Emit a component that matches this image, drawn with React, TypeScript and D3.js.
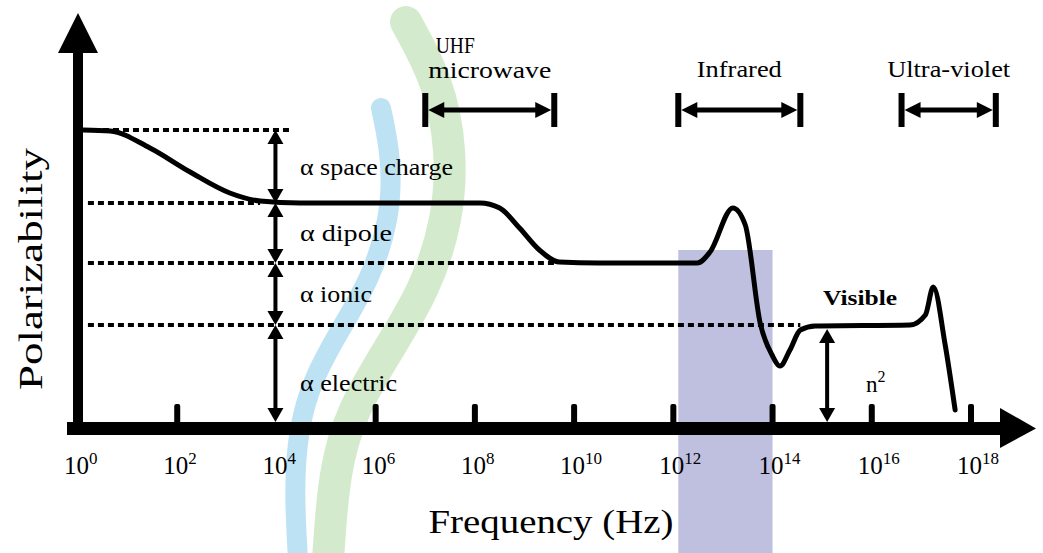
import React from 'react';
import * as d3 from 'd3';

const W = 1043;
const H = 553;

// x is log10(frequency), y is polarizability (arbitrary units)
const tickExps = [0, 2, 4, 6, 8, 10, 12, 14, 16, 18];
const tickMarks = [2, 6, 8, 10, 12, 14, 16, 18];

const curveExp = [0.1, 0.65, 1.45, 2.26, 3.06, 3.67, 4.48, 8.1, 8.5, 8.9, 9.3, 9.7, 10.5, 12.48, 12.74, 13.2, 13.45, 13.75, 13.99, 14.15, 14.35, 14.56, 14.86, 16.77, 17.08, 17.24, 17.48, 17.68];
const curveVal = [29.8, 29.7, 28, 25.6, 23.5, 22.7, 22.5, 22.5, 22, 20, 17.8, 16.6, 16.5, 16.5, 17.6, 22, 20.3, 10.5, 7.3, 6.2, 7.8, 9.8, 10.2, 10.3, 11.3, 14.1, 8.3, 1.8];

const levelNames = ['α space charge', 'α dipole', 'α ionic', 'α electric'];
const levelWidths = [153, 92, 72, 97];
const levelVals = [29.8, 22.5, 16.5, 10.3, 0];
const dotStart = [0.1, 0.2, 0.2, 0.2];
const dotEnd = [4.27, 3.67, 9.62, 14.56];

const bandNames = [['UHF', 'microwave'], ['Infrared'], ['Ultra-violet']];
const bandWidths = [[39, 123], [85], [123]];
const bandStart = [7.0, 12.1, 16.6];
const bandEnd = [9.6, 14.56, 18.5];

const highlightStart = 12.1;
const highlightEnd = 14.0;
const highlightTop = 17.8;

const visibleExp = 15.1;

const x = d3.scaleLinear().domain([0, 18]).range([78, 971]);
const y = d3.scaleLinear().domain([0, 40]).range([428, 28]);

const FONT = 'Liberation Serif';

// faint watermark strokes behind the chart
const blueSwoosh: [number, number][] = [[381, 108], [392, 160], [390, 220], [370, 280], [340, 330], [312, 380], [298, 430], [294, 490], [298, 560]];
const greenSwoosh: [number, number][] = [[406, 22], [438, 80], [452, 150], [448, 220], [425, 290], [388, 350], [352, 410], [334, 470], [328, 560]];

const smooth = d3.line().curve(d3.curveBasis);

function VArrow({ cx, y1, y2 }: { cx: number; y1: number; y2: number }) {
  const hl = 14;
  const hw = 8;
  return (
    <g>
      <line x1={cx} x2={cx} y1={y1 + hl - 2} y2={y2 - hl + 2} stroke="#000" strokeWidth={4} />
      <path d={`M${cx},${y1}L${cx - hw},${y1 + hl}L${cx + hw},${y1 + hl}Z`} fill="#000" />
      <path d={`M${cx},${y2}L${cx - hw},${y2 - hl}L${cx + hw},${y2 - hl}Z`} fill="#000" />
    </g>
  );
}

function HBand({ x1, x2, cy }: { x1: number; x2: number; cy: number }) {
  const hl = 16;
  const hw = 8;
  const a = x1 + 3;
  const b = x2 - 3;
  return (
    <g>
      <rect x={x1 - 3} y={cy - 17} width={6} height={34} fill="#000" />
      <rect x={x2 - 3} y={cy - 17} width={6} height={34} fill="#000" />
      <line x1={a + hl - 2} x2={b - hl + 2} y1={cy} y2={cy} stroke="#000" strokeWidth={5} />
      <path d={`M${a},${cy}L${a + hl},${cy - hw}L${a + hl},${cy + hw}Z`} fill="#000" />
      <path d={`M${b},${cy}L${b - hl},${cy - hw}L${b - hl},${cy + hw}Z`} fill="#000" />
    </g>
  );
}

export default function App() {
  const pts = curveExp.map((e, i) => [x(e), y(curveVal[i])] as [number, number]);
  const curvePath = d3.line().curve(d3.curveMonotoneX)(pts) || '';
  const arrowX = x(4) - 1;
  const bandY = 110;

  return (
    <svg width={W} height={H} style={{ position: 'absolute', left: 0, top: 0, background: '#fff' }} fontFamily={FONT}>
      {/* watermark */}
      <path d={smooth(greenSwoosh) || ''} fill="none" stroke="#d3ebcc" strokeWidth={32} strokeLinecap="round" />
      <path d={smooth(blueSwoosh) || ''} fill="none" stroke="#bde2f4" strokeWidth={20} strokeLinecap="round" />
      <rect x={x(highlightStart)} y={y(highlightTop)} width={x(highlightEnd) - x(highlightStart)} height={H - y(highlightTop)} fill="#bfc0e0" />

      {/* dotted level lines */}
      {levelNames.map((_, i) => (
        <line key={'d' + i} x1={x(dotStart[i])} x2={x(dotEnd[i])} y1={y(levelVals[i])} y2={y(levelVals[i])}
          stroke="#000" strokeWidth={4} strokeDasharray="6 4" />
      ))}

      {/* polarizability curve */}
      <path d={curvePath} fill="none" stroke="#000" strokeWidth={5} strokeLinejoin="round" strokeLinecap="round" />

      {/* axes */}
      <rect x={73} y={45} width={10} height={390} fill="#000" />
      <path d="M58,53L78,13L98,53Z" fill="#000" />
      <rect x={67} y={422} width={936} height={13} fill="#000" />
      <path d={`M1000,408L1036,428.5L1000,448Z`} fill="#000" />
      {tickMarks.map(e => (
        <rect key={'t' + e} x={x(e) - 3} y={404} width={6} height={20} rx={2} fill="#000" />
      ))}
      {tickExps.map(e => (
        <text key={'l' + e} x={x(e) - 14} y={474} fontSize={25} fill="#000" fontFamily={FONT}>
          10<tspan fontSize={17} dy={-10}>{e}</tspan>
        </text>
      ))}

      {/* level arrows and labels */}
      {levelNames.map((n, i) => (
        <g key={'a' + i}>
          <VArrow cx={arrowX} y1={y(levelVals[i])} y2={y(levelVals[i + 1]) - (i === 3 ? 6 : 0)} />
          <text x={300} y={(y(levelVals[i]) + y(levelVals[i + 1])) / 2 + 8 + (i === 3 ? 6 : 0)} fontSize={23} fill="#000" fontFamily={FONT}
            textLength={levelWidths[i]} lengthAdjust="spacingAndGlyphs">{n}</text>
        </g>
      ))}

      {/* visible / n^2 */}
      <VArrow cx={x(visibleExp)} y1={y(levelVals[3]) + 4} y2={y(0) - 6} />
      <text x={823} y={305} fontSize={21} fontWeight="bold" fill="#000" fontFamily={FONT} textLength={74} lengthAdjust="spacingAndGlyphs">Visible</text>
      <text x={866} y={392} fontSize={23} fill="#000" fontFamily={FONT}>n<tspan fontSize={16} dy={-10}>2</tspan></text>

      {/* spectral bands */}
      {bandNames.map((lines, i) => {
        const x1 = x(bandStart[i]);
        const x2 = x(bandEnd[i]);
        return (
          <g key={'b' + i}>
            <HBand x1={x1} x2={x2} cy={bandY} />
            {lines.length === 2 ? (
              <>
                <text x={(x1 + x2) / 2 - 54} y={53} fontSize={23} fill="#000" fontFamily={FONT}
                  textLength={bandWidths[i][0]} lengthAdjust="spacingAndGlyphs">{lines[0]}</text>
                <text x={(x1 + x2) / 2} y={78} fontSize={23} textAnchor="middle" fill="#000" fontFamily={FONT}
                  textLength={bandWidths[i][1]} lengthAdjust="spacingAndGlyphs">{lines[1]}</text>
              </>
            ) : (
              <text x={(x1 + x2) / 2} y={77} fontSize={23} textAnchor="middle" fill="#000" fontFamily={FONT}
                textLength={bandWidths[i][0]} lengthAdjust="spacingAndGlyphs">{lines[0]}</text>
            )}
          </g>
        );
      })}

      {/* axis titles */}
      <text x={551} y={533} fontSize={33} textAnchor="middle" fill="#000" fontFamily={FONT} textLength={245} lengthAdjust="spacingAndGlyphs">Frequency (Hz)</text>
      <text transform="translate(42,269) rotate(-90)" fontSize={33} textAnchor="middle" fill="#000" fontFamily={FONT} textLength={242} lengthAdjust="spacingAndGlyphs">Polarizability</text>
    </svg>
  );
}
